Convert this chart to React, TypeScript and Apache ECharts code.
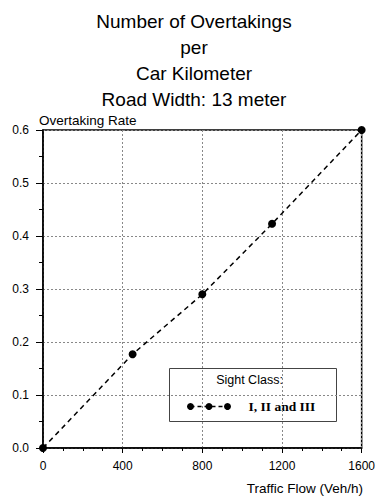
import React, { useEffect, useRef } from "react";
import * as echarts from "echarts";

const titleLines = ["Number of Overtakings", "per", "Car Kilometer", "Road Width: 13 meter"];
const trafficFlow = [0, 450, 800, 1150, 1600];
const overtakingRate = [0, 0.177, 0.29, 0.423, 0.6];
const seriesName = "I, II and III";
const legendTitle = "Sight Class:";
const xAxisName = "Traffic Flow (Veh/h)";
const yAxisName = "Overtaking Rate";

export default function App() {
  const ref = useRef<HTMLDivElement>(null);
  useEffect(() => {
    if (!ref.current) return;
    const chart = echarts.init(ref.current, null, { renderer: "svg" });
    const sans = "Liberation Sans, Arial, sans-serif";
    const lx = 169, ly = 368, lw = 167, lh = 53;
    chart.setOption({
      animation: false,
      backgroundColor: "#fff",
      title: {
        text: titleLines.join("\n"),
        left: 189,
        top: 3,
        textAlign: "center",
        textStyle: { fontFamily: sans, fontSize: 19, fontWeight: "normal", lineHeight: 26, color: "#000" },
      },
      grid: {
        left: 43, right: 16, top: 130, bottom: 51,
        show: true, borderColor: "#000", borderWidth: 1.5, backgroundColor: "transparent",
      },
      xAxis: {
        type: "value", min: 0, max: 1600, interval: 400,
        axisLine: { show: true, lineStyle: { color: "#000", width: 1.5 } },
        axisTick: { show: true, length: 5, lineStyle: { color: "#000" } },
        minorTick: { show: true, splitNumber: 4, length: 3, lineStyle: { color: "#000" } },
        axisLabel: { fontFamily: sans, fontSize: 12, color: "#000", margin: 12, formatter: (v: number) => String(v) },
        splitLine: { show: true, lineStyle: { color: "#888", type: [2, 2], width: 1 } },
      },
      yAxis: {
        type: "value", min: 0, max: 0.6, interval: 0.1,
        axisLine: { show: true, lineStyle: { color: "#000", width: 1.5 } },
        axisTick: { show: true, length: 7, lineStyle: { color: "#000" } },
        minorTick: { show: true, splitNumber: 2, length: 4, lineStyle: { color: "#000" } },
        axisLabel: { fontFamily: sans, fontSize: 12, color: "#000", margin: 14, formatter: (v: number) => v.toFixed(1) },
        splitLine: { show: true, lineStyle: { color: "#888", type: [2, 2], width: 1 } },
      },
      series: [
        {
          name: seriesName,
          type: "line",
          data: trafficFlow.map((x, i) => [x, overtakingRate[i]]),
          symbol: "circle",
          symbolSize: 8,
          itemStyle: { color: "#000" },
          lineStyle: { color: "#000", width: 1.5, type: [5, 4] },
        },
      ],
      graphic: [
        { type: "text", left: 39, top: 113, style: { text: yAxisName, font: `13.5px ${sans}`, fill: "#000" } },
        { type: "text", right: 15, top: 481, style: { text: xAxisName, font: `13.5px ${sans}`, fill: "#000" } },
        {
          type: "group", left: lx, top: ly, z: 100,
          children: [
            { type: "rect", shape: { x: 0, y: 0, width: lw, height: lh }, style: { fill: "#fff", stroke: "#444", lineWidth: 1 } },
            { type: "text", x: 80, y: 11, style: { text: legendTitle, font: `12.5px ${sans}`, fill: "#000", textAlign: "center", textVerticalAlign: "middle" } },
            { type: "line", shape: { x1: 21, y1: 38, x2: 58, y2: 38 }, style: { stroke: "#000", lineWidth: 1.5, lineDash: [4, 3] } },
            { type: "circle", shape: { cx: 21, cy: 38, r: 3.5 }, style: { fill: "#000" } },
            { type: "circle", shape: { cx: 39.5, cy: 38, r: 3.5 }, style: { fill: "#000" } },
            { type: "circle", shape: { cx: 58, cy: 38, r: 3.5 }, style: { fill: "#000" } },
            { type: "text", x: 79, y: 38, style: { text: seriesName, font: `bold 13.5px Liberation Serif, serif`, fill: "#000", textVerticalAlign: "middle" } },
          ],
        },
      ],
    });
    return () => chart.dispose();
  }, []);
  return <div ref={ref} style={{ position: "fixed", left: 0, top: 0, width: 378, height: 499 }} />;
}
